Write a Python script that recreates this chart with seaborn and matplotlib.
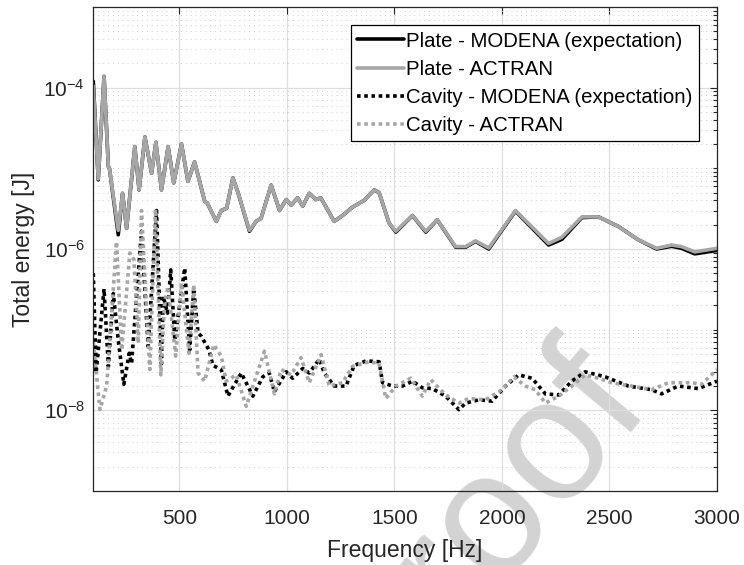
import matplotlib
matplotlib.use('Agg')
import matplotlib.pyplot as plt
import matplotlib.ticker as mticker
import numpy as np
import seaborn as sns

# Plate - MODENA (expectation)
plate_modena_f = [100, 123, 150, 170, 175, 216, 236, 255, 293, 313, 340, 371, 391, 417,
                  448, 474, 510, 540, 571, 618, 630, 672, 695, 720, 749, 772, 826, 857,
                  880, 927, 966, 997, 1020, 1050, 1074, 1104, 1135, 1158, 1220, 1259, 1305,
                  1359, 1406, 1429, 1475, 1507, 1584, 1646, 1699, 1785, 1831, 1877, 1939,
                  2063, 2217, 2279, 2372, 2449, 2542, 2634, 2719, 2789, 2835, 2897, 3000]
plate_modena_e = [1.2e-4, 7.2e-6, 1.38e-4, 1.05e-5, 1.0e-5, 1.5e-6, 4.9e-6, 1.8e-6, 1.86e-5,
                  5.4e-6, 2.45e-5, 8.7e-6, 2.1e-5, 5.4e-6, 1.86e-5, 6.6e-6, 2.0e-5, 6.9e-6,
                  1.2e-5, 3.9e-6, 3.7e-6, 2.2e-6, 3.0e-6, 3.2e-6, 7.6e-6, 5.1e-6, 1.66e-6,
                  2.2e-6, 2.4e-6, 6.2e-6, 3.0e-6, 4.1e-6, 3.5e-6, 4.3e-6, 3.4e-6, 4.9e-6,
                  4.1e-6, 4.3e-6, 2.2e-6, 2.6e-6, 3.3e-6, 4.0e-6, 5.4e-6, 5.0e-6, 2.1e-6,
                  1.62e-6, 2.6e-6, 1.62e-6, 2.3e-6, 1.05e-6, 1.05e-6, 1.24e-6, 1.0e-6,
                  2.95e-6, 1.12e-6, 1.32e-6, 2.45e-6, 2.5e-6, 1.9e-6, 1.3e-6, 1.0e-6,
                  1.08e-6, 1.02e-6, 8.7e-7, 9.6e-7]

# Plate - ACTRAN
plate_actran_f = [100, 123, 150, 170, 175, 216, 236, 255, 293, 313, 340, 371, 391, 417,
                  448, 474, 510, 540, 571, 618, 630, 672, 695, 720, 749, 772, 826, 857,
                  880, 927, 966, 997, 1020, 1050, 1074, 1104, 1135, 1158, 1220, 1259, 1305,
                  1359, 1406, 1429, 1475, 1507, 1584, 1646, 1699, 1785, 1831, 1877, 1939,
                  2063, 2217, 2279, 2372, 2449, 2542, 2634, 2719, 2789, 2835, 2897, 3000]
plate_actran_e = [1.05e-4, 7.4e-6, 1.38e-4, 1.05e-5, 1.0e-5, 1.7e-6, 4.9e-6, 1.8e-6, 1.86e-5,
                  5.4e-6, 2.45e-5, 8.7e-6, 2.1e-5, 5.4e-6, 1.86e-5, 6.6e-6, 2.0e-5, 6.9e-6,
                  1.2e-5, 3.9e-6, 3.7e-6, 2.2e-6, 3.0e-6, 3.2e-6, 7.6e-6, 5.1e-6, 1.7e-6,
                  2.2e-6, 2.4e-6, 6.2e-6, 3.0e-6, 4.1e-6, 3.5e-6, 4.3e-6, 3.4e-6, 4.9e-6,
                  4.1e-6, 4.3e-6, 2.2e-6, 2.6e-6, 3.3e-6, 4.0e-6, 5.4e-6, 5.0e-6, 2.1e-6,
                  1.66e-6, 2.6e-6, 1.66e-6, 2.3e-6, 1.07e-6, 1.07e-6, 1.26e-6, 1.03e-6,
                  3.0e-6, 1.17e-6, 1.4e-6, 2.5e-6, 2.5e-6, 1.9e-6, 1.3e-6, 1.02e-6,
                  1.12e-6, 1.07e-6, 9.2e-7, 1.02e-6]

# Cavity - MODENA (expectation)
cavity_modena_f = [100, 113, 150, 170, 193, 216, 242, 267, 278, 324, 355, 394, 417, 425,
                   445, 460, 479, 525, 548, 567, 587, 602, 638, 656, 695, 726, 757, 788,
                   842, 888, 918, 942, 997, 1027, 1074, 1104, 1151, 1174, 1220, 1275, 1313,
                   1368, 1429, 1445, 1491, 1538, 1584, 1630, 1676, 1738, 1800, 1831, 1893,
                   1954, 2017, 2078, 2140, 2202, 2264, 2325, 2387, 2480, 2588, 2696, 2742,
                   2820, 2913, 3000]
cavity_modena_e = [5.0e-7, 2.9e-8, 3.2e-7, 3.5e-8, 2.8e-7, 7.4e-8, 2.1e-8, 5.1e-8, 3.8e-8,
                   1.66e-6, 6.2e-8, 3.0e-6, 3.8e-8, 2.6e-7, 1.6e-7, 5.5e-7, 7.4e-8, 5.8e-7,
                   5.6e-8, 3.2e-7, 9.1e-8, 8.3e-8, 5.6e-8, 3.6e-8, 3.2e-8, 1.5e-8, 2.1e-8,
                   2.9e-8, 1.5e-8, 2.6e-8, 2.9e-8, 1.7e-8, 3.0e-8, 2.5e-8, 3.3e-8, 2.9e-8,
                   4.3e-8, 2.9e-8, 2.0e-8, 2.0e-8, 3.6e-8, 4.1e-8, 4.0e-8, 2.2e-8, 2.0e-8,
                   2.0e-8, 2.3e-8, 1.9e-8, 1.86e-8, 1.5e-8, 1.02e-8, 1.23e-8, 1.35e-8,
                   1.3e-8, 2.0e-8, 2.75e-8, 2.5e-8, 1.6e-8, 1.55e-8, 2.3e-8, 3.0e-8,
                   2.6e-8, 2.0e-8, 1.8e-8, 1.6e-8, 2.0e-8, 1.86e-8, 2.3e-8]

# Cavity - ACTRAN
cavity_actran_f = [100, 131, 162, 208, 232, 270, 289, 309, 324, 363, 389, 414, 432, 448,
                   483, 510, 545, 567, 587, 618, 660, 695, 718, 765, 811, 896, 942, 974,
                   1020, 1066, 1104, 1159, 1197, 1259, 1305, 1383, 1429, 1460, 1507, 1576,
                   1630, 1669, 1738, 1800, 1846, 1923, 2001, 2055, 2109, 2155, 2202, 2264,
                   2325, 2387, 2449, 2511, 2603, 2696, 2774, 2882, 2928, 3000]
cavity_actran_e = [7.0e-8, 1.02e-8, 2.0e-8, 1.23e-6, 5.6e-8, 8.9e-7, 7.4e-7, 6.8e-8, 3.0e-6,
                   3.2e-8, 3.1e-6, 2.75e-8, 2.3e-7, 3.4e-7, 4.7e-8, 3.8e-7, 5.1e-8, 3.6e-7,
                   2.9e-8, 2.3e-8, 6.5e-8, 4.7e-8, 2.3e-8, 2.75e-8, 1.12e-8, 5.4e-8, 1.6e-8,
                   3.2e-8, 2.75e-8, 4.5e-8, 2.2e-8, 4.9e-8, 2.0e-8, 2.2e-8, 3.5e-8, 4.0e-8,
                   3.8e-8, 1.4e-8, 2.0e-8, 2.5e-8, 1.5e-8, 2.4e-8, 1.55e-8, 1.23e-8, 1.4e-8,
                   1.35e-8, 1.8e-8, 2.6e-8, 2.0e-8, 1.8e-8, 1.23e-8, 1.5e-8, 2.0e-8, 2.75e-8,
                   2.5e-8, 2.2e-8, 2.0e-8, 1.8e-8, 2.2e-8, 2.2e-8, 2.1e-8, 3.2e-8]

labels = ['Plate - MODENA (expectation)', 'Plate - ACTRAN',
          'Cavity - MODENA (expectation)', 'Cavity - ACTRAN']

sns.set_style('white')
plt.rcParams['font.family'] = ['Liberation Sans', 'DejaVu Sans']
plt.rcParams['mathtext.default'] = 'regular'

dark = '#262626'
light = '#a6a6a6'
dots = (0, (1, 1))

fig = plt.figure(figsize=(7.44, 5.65), dpi=100)
ax = fig.add_axes([0.1254, 0.131, 0.8383, 0.8566])
ax.set_facecolor('none')

series = [(plate_modena_f, plate_modena_e, labels[0], 'black', '-'),
          (plate_actran_f, plate_actran_e, labels[1], light, '-'),
          (cavity_modena_f, cavity_modena_e, labels[2], 'black', dots),
          (cavity_actran_f, cavity_actran_e, labels[3], light, dots)]

for f, e, lab, col, ls in series:
    sns.lineplot(x=f, y=e, ax=ax, color=col, linestyle=ls, linewidth=2.6,
                 label=lab, sort=False, estimator=None)

ax.set_yscale('log')
ax.set_xlim(100, 3000)
ax.set_ylim(1e-9, 1e-3)

ax.set_xticks([500, 1000, 1500, 2000, 2500, 3000])
ax.yaxis.set_major_locator(mticker.FixedLocator([1e-8, 1e-6, 1e-4]))
minor = [k * 10.0 ** n for n in range(-9, -3) for k in range(1, 10)
         if not (k == 1 and n in (-8, -6, -4))] + [1e-3]
ax.yaxis.set_minor_locator(mticker.FixedLocator(minor))
ax.yaxis.set_minor_formatter(mticker.NullFormatter())
ax.set_yticklabels([r'$10^{-8}$', r'$10^{-6}$', r'$10^{-4}$'])

ax.tick_params(axis='both', which='both', direction='in', top=True, right=True,
               colors=dark, labelsize=15, width=0.8)
ax.tick_params(which='major', length=5)
ax.tick_params(which='minor', length=3)
ax.tick_params(axis='x', pad=13)
ax.tick_params(axis='y', pad=6)

ax.grid(True, which='major', color='#dedede', linewidth=0.9, linestyle='-')
ax.yaxis.grid(True, which='minor', color='#cfcfcf', linewidth=0.7, linestyle=(0, (1, 4)))
ax.set_axisbelow(True)

for sp in ax.spines.values():
    sp.set_color(dark)
    sp.set_linewidth(0.9)

ax.set_xlabel('Frequency [Hz]', fontsize=16.5, color=dark, labelpad=8)
ax.set_ylabel('Total energy [J]', fontsize=16.5, color=dark, labelpad=6)

leg = ax.legend(loc='upper right', fontsize=14.7, frameon=True, fancybox=False,
                edgecolor='black', framealpha=1, handlelength=2.3, handletextpad=0.1,
                labelspacing=0.45, borderpad=0.3, borderaxespad=0.9)
leg.get_frame().set_linewidth(0.9)
for t in leg.get_texts():
    t.set_color('black')

fig.text(0.655, 0.08, 'proof', rotation=50, fontsize=125, color='#d3d3d3',
         ha='center', va='center', zorder=-1)

fig.savefig('out.png', dpi=100)
